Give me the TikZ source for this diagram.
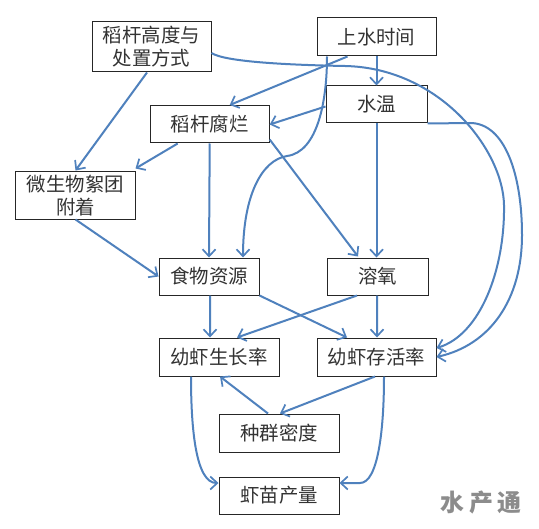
\documentclass[tikz,border=0pt]{standalone}
\usepackage{fontspec}
\setmainfont{Noto Sans CJK SC}
\usetikzlibrary{arrows.meta}
\definecolor{linkblue}{HTML}{4F81BD}
\definecolor{inktext}{HTML}{333333}
\tikzset{
  box/.style={draw=black!85,line width=1bp,fill=white,inner sep=0pt,align=center,text=inktext,
    font=\fontsize{19.5}{23}\selectfont},
  link/.style={draw=linkblue,line width=2bp,-{Straight Barb[length=7bp,width=13bp,line width=1.7bp]}},
  mark text/.style={font=\fontsize{24}{24}\selectfont\bfseries,inner sep=0pt,text=black!45}
}
\begin{document}
\begin{tikzpicture}[x=1bp,y=-1bp]
\useasboundingbox (0,0) rectangle (539,529);
\fill[white] (0,0) rectangle (539,529);
\node[box,minimum width=119bp,minimum height=50bp] (A) at (151.5,47) {稻杆高度与\\处置方式};
\node[box,minimum width=119bp,minimum height=38bp] (B) at (376.5,37) {上水时间};
\node[box,minimum width=101bp,minimum height=37bp] (C) at (376.5,104.5) {水温};
\node[box,minimum width=119bp,minimum height=37bp] (D) at (209.7,124.5) {稻杆腐烂};
\node[box,minimum width=119bp,minimum height=47bp] (E) at (75.5,195.5) {微生物絮团\\附着};
\node[box,minimum width=100bp,minimum height=37bp] (F) at (209,276.5) {食物资源};
\node[box,minimum width=101bp,minimum height=37bp] (G) at (377.5,276.5) {溶氧};
\node[box,minimum width=120bp,minimum height=38bp] (H) at (219,357) {幼虾生长率};
\node[box,minimum width=119bp,minimum height=38bp] (I) at (376.5,357) {幼虾存活率};
\node[box,minimum width=120bp,minimum height=38bp] (J) at (279,433) {种群密度};
\node[box,minimum width=120bp,minimum height=37bp] (K) at (279,495.5) {虾苗产量};
\node[mark text] (W) at (481,503) {水\hspace{5bp}产\hspace{5bp}通};
\draw[link] ([xshift=-4.5bp]A.south) -- ([yshift=1bp]E.north);
\draw[link] ([xshift=-29bp]B.south) -- ([xshift=20bp,yshift=0.5bp]D.north);
\draw[link] (B.south) -- (C.north);
\draw[link] ([yshift=-2bp]C.west) -- (D.east);
\draw[link] ([xshift=-32bp]D.south) -- ([yshift=3bp]E.north east);
\draw[link] (D.south) -- (F.north);
\draw[link] ([xshift=-49.5bp]B.south) .. controls (327,100) and (318,152) .. (287,156) .. controls (262,160) and (243,195) .. ([xshift=34bp]F.north);
\draw[link] ([yshift=4bp]D.south east) -- ([xshift=-19.5bp,yshift=1bp]G.north);
\draw[link] (C.south) -- ([xshift=-1bp]G.north);
\draw[link] ([yshift=-6bp]A.east) .. controls (225,62) and (290,65) .. (345,66) .. controls (440,68) and (503,150) .. (504,205) .. controls (505,270) and (480,335) .. ([yshift=9bp]I.east);
\draw[link] (C.south east) -- (470,123) .. controls (505,123) and (522,175) .. (522,235) .. controls (522,300) and (490,345) .. (I.east);
\draw[link] (E.south) -- (F.west);
\draw[link] ([xshift=1bp]F.south) -- ([xshift=-9bp]H.north);
\draw[link] (F.south east) -- ([xshift=-29.5bp]I.north);
\draw[link] ([xshift=-20.5bp]G.south) -- ([xshift=18bp]H.north);
\draw[link] ([xshift=-0.5bp]G.south) -- ([xshift=0.5bp]I.north);
\draw[link] ([xshift=-28bp]H.south) .. controls (191,430) and (196,483) .. ([yshift=12.5bp]K.west);
\draw[link] ([xshift=7.5bp]I.south) .. controls (384,430) and (378,483) .. (360,483) -- ([yshift=12.5bp]K.east);
\draw[link] ([xshift=-1.5bp]I.south) -- ([xshift=1bp]J.north);
\draw[link] ([xshift=-11bp]J.north) -- ([xshift=1bp]H.south);
\end{tikzpicture}
\end{document}
